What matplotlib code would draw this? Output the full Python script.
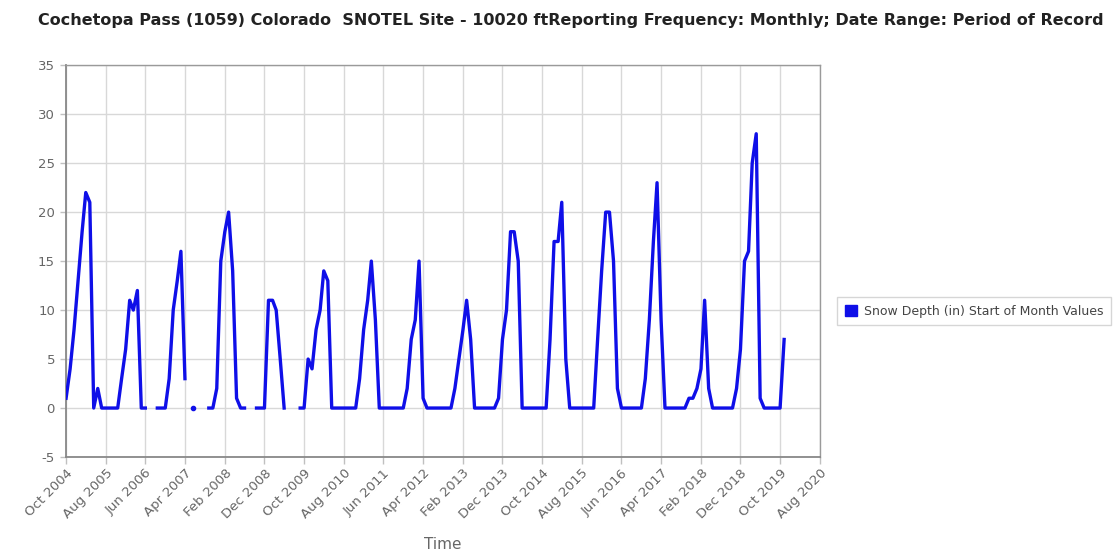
import numpy as np
import pandas as pd
import matplotlib
matplotlib.use("Agg")
import matplotlib.pyplot as plt
import matplotlib.dates as mdates
from matplotlib.patches import Patch

plt.rcParams["axes.unicode_minus"] = False

# Snow depth (in) on the 1st of each month, one list per water year (Oct-Sep).
# None = no report for that month.
wy2005 = [1, 4, 8, 13, 18, 22, 21, 0, 2, 0, 0, 0]
wy2006 = [0, 0, 3, 6, 11, 10, 12, 0, 0, None, None, 0]
wy2007 = [0, 0, 3, 10, 13, 16, 3, None, 0, None, None, None]
wy2008 = [0, 0, 2, 15, 18, 20, 14, 1, 0, 0, None, None]
wy2009 = [0, 0, 0, 11, 11, 10, 5, 0, None, None, None, 0]
wy2010 = [0, 5, 4, 8, 10, 14, 13, 0, 0, 0, 0, 0]
wy2011 = [0, 0, 3, 8, 11, 15, 9, 0, 0, 0, 0, 0]
wy2012 = [0, 0, 2, 7, 9, 15, 1, 0, 0, 0, 0, 0]
wy2013 = [0, 0, 2, 5, 8, 11, 7, 0, 0, 0, 0, 0]
wy2014 = [0, 1, 7, 10, 18, 18, 15, 0, 0, 0, 0, 0]
wy2015 = [0, 0, 7, 17, 17, 21, 5, 0, 0, 0, 0, 0]
wy2016 = [0, 0, 7, 14, 20, 20, 15, 2, 0, 0, 0, 0]
wy2017 = [0, 0, 3, 9, 17, 23, 9, 0, 0, 0, 0, 0]
wy2018 = [0, 1, 1, 2, 4, 11, 2, 0, 0, 0, 0, 0]
wy2019 = [0, 2, 6, 15, 16, 25, 28, 1, 0, 0, 0, 0]
wy2020 = [0, 7]

seasons = [wy2005, wy2006, wy2007, wy2008, wy2009, wy2010, wy2011, wy2012,
           wy2013, wy2014, wy2015, wy2016, wy2017, wy2018, wy2019, wy2020]
depth = np.array([np.nan if v is None else v for s in seasons for v in s], dtype=float)
dates = pd.date_range("2004-10-01", periods=len(depth), freq="MS")

tick_dates = pd.date_range("2004-10-01", "2020-08-01", freq="10MS")

title = ("Cochetopa Pass (1059) Colorado  SNOTEL Site - 10020 ft"
         "Reporting Frequency: Monthly; Date Range: Period of Record")
series_name = "Snow Depth (in) Start of Month Values"

LINE = "#0f0fe8"
GRID = "#d8d8d8"
TXT = "#666666"

fig = plt.figure(figsize=(11.2, 5.57), dpi=100)
ax = fig.add_axes([0.059, 0.1795, 0.673, 0.7035])

ax.plot(dates, depth, color=LINE, lw=2.4, solid_joinstyle="round", zorder=3)

# points with no neighbours on either side still get a marker
prev_nan = np.r_[True, np.isnan(depth[:-1])]
next_nan = np.r_[np.isnan(depth[1:]), True]
lone = ~np.isnan(depth) & prev_nan & next_nan
ax.plot(dates[lone], depth[lone], "o", color=LINE, ms=3, zorder=3)

ax.set_xlim(tick_dates[0], tick_dates[-1])
ax.set_ylim(-5, 35)
ax.set_yticks(np.arange(-5, 36, 5))
ax.set_xticks(tick_dates)
ax.xaxis.set_major_formatter(mdates.DateFormatter("%b %Y"))
ax.grid(True, color=GRID, lw=1)
ax.set_axisbelow(True)

for side in ["top", "right"]:
    ax.spines[side].set_color("#9a9a9a")
    ax.spines[side].set_linewidth(1)
for side in ["left", "bottom"]:
    ax.spines[side].set_color("#888888")
    ax.spines[side].set_linewidth(1.3)

ax.tick_params(axis="x", colors="#c0c0c0", length=5, width=1, labelcolor=TXT,
               labelsize=9.5, pad=2)
ax.tick_params(axis="y", colors="#c0c0c0", length=4, width=1, labelcolor=TXT,
               labelsize=9.5, pad=4)
for lbl in ax.get_xticklabels():
    lbl.set_rotation(45)
    lbl.set_ha("right")
    lbl.set_rotation_mode("anchor")

ax.set_xlabel("Time", color=TXT, fontsize=11, labelpad=11)

fig.text(0.034, 0.963, title, fontsize=11.5, fontweight="bold", color="#222222",
         ha="left", va="center")

handle = Patch(facecolor=LINE, edgecolor=LINE)
fig.legend([handle], [series_name], loc="center left",
           bbox_to_anchor=(0.742, 0.441), frameon=True, fontsize=9.0,
           labelcolor="#444444", edgecolor="#cccccc", fancybox=False,
           handlelength=1.0, handleheight=1.0, handletextpad=0.5,
           borderpad=0.6)

fig.savefig("out.png", dpi=100)
